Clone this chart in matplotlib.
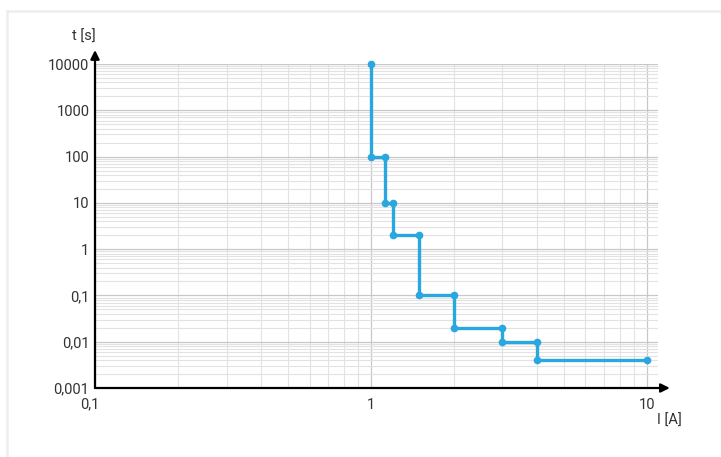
import matplotlib.pyplot as plt
import matplotlib.transforms as mtransforms
from matplotlib.lines import Line2D
from matplotlib.ticker import FixedLocator, FixedFormatter, LogLocator, NullFormatter

plt.rcParams['font.family'] = ['Roboto', 'DejaVu Sans']

# Tripping characteristic (step curve)
current = [1, 1, 1.13, 1.13, 1.2, 1.2, 1.5, 1.5, 2, 2, 3, 3, 4, 4, 10]
time_s = [10000, 100, 100, 10, 10, 2, 2, 0.1, 0.1, 0.02, 0.02, 0.01, 0.01, 0.004, 0.004]

x_ticks = [0.1, 1, 10]
x_labels = ['0,1', '1', '10']
y_ticks = [0.001, 0.01, 0.1, 1, 10, 100, 1000, 10000]
y_labels = ['0,001', '0,01', '0,1', '1', '10', '100', '1000', '10000']

fig = plt.figure(figsize=(7.21, 4.57), dpi=100)

# light frame around the panel
fig.add_artist(Line2D([7 / 721, 7 / 721], [0, 1 - 11 / 457], color='#eeeeee', lw=1.8))
fig.add_artist(Line2D([7 / 721, 1], [1 - 11 / 457, 1 - 11 / 457], color='#eeeeee', lw=1.8))

ax = fig.add_axes([95 / 721, 1 - 388 / 457, 563 / 721, 324 / 457])
ax.set_xscale('log')
ax.set_yscale('log')
ax.set_xlim(0.1, 11)
ax.set_ylim(0.001, 10000)

ax.xaxis.set_major_locator(FixedLocator(x_ticks))
ax.xaxis.set_major_formatter(FixedFormatter(x_labels))
ax.yaxis.set_major_locator(FixedLocator(y_ticks))
ax.yaxis.set_major_formatter(FixedFormatter(y_labels))
ax.xaxis.set_minor_locator(LogLocator(base=10, subs=range(2, 10), numticks=20))
ax.yaxis.set_minor_locator(LogLocator(base=10, subs=range(2, 10), numticks=20))
ax.xaxis.set_minor_formatter(NullFormatter())
ax.yaxis.set_minor_formatter(NullFormatter())

ax.grid(True, which='major', color='#c8c8c8', lw=0.9)
ax.grid(True, which='minor', color='#e2e2e2', lw=0.8)
ax.set_axisbelow(True)

ax.tick_params(which='both', length=0, labelsize=10.5, colors='#333333')
ax.tick_params(axis='x', pad=7)
ax.tick_params(axis='y', pad=4)

for s in ax.spines.values():
    s.set_visible(False)

# shift the "0,1" label a little to the left, as in the original
fig.canvas.draw()
first = ax.get_xticklabels()[0]
first.set_transform(first.get_transform() + mtransforms.ScaledTranslation(-5 / 100, 0, fig.dpi_scale_trans))

# axes with arrow heads
ax.annotate('', xy=(1.021, 0), xytext=(0, 0), xycoords='axes fraction',
            arrowprops=dict(arrowstyle='-|>', color='black', lw=1.6, mutation_scale=13, shrinkA=0, shrinkB=0),
            annotation_clip=False)
ax.annotate('', xy=(0, 1.043), xytext=(0, 0), xycoords='axes fraction',
            arrowprops=dict(arrowstyle='-|>', color='black', lw=1.6, mutation_scale=13, shrinkA=0, shrinkB=0),
            annotation_clip=False)

ax.plot(current, time_s, color='#2aa7df', lw=2.4, marker='o', markersize=4.5, clip_on=False, zorder=5)

fig.text(84 / 721, 1 - 37 / 457, 't [s]', fontsize=10.5, color='#333333', ha='center', va='center')
fig.text(669 / 721, 1 - 421 / 457, 'I [A]', fontsize=10.5, color='#333333', ha='center', va='center')

plt.savefig('out.png', dpi=100)
